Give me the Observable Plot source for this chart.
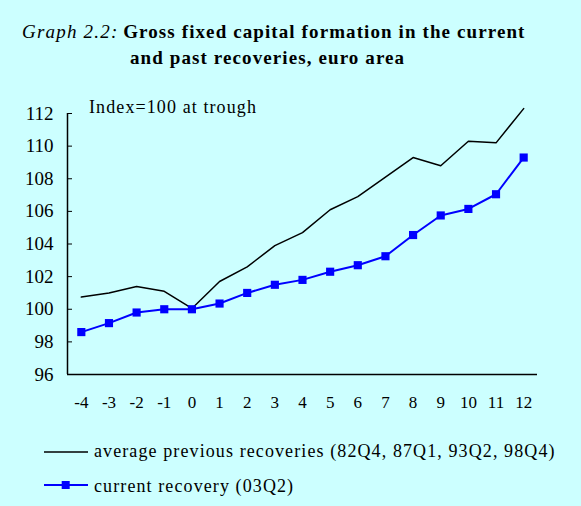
<!DOCTYPE html>
<html>
<head>
<meta charset="utf-8">
<script src="https://cdn.jsdelivr.net/npm/d3@7"></script>
<script src="https://cdn.jsdelivr.net/npm/@observablehq/plot@0.6"></script>
<style>
  html, body { margin: 0; padding: 0; background: #ccffff; }
  #wrap { position: relative; width: 581px; height: 506px; background: #ccffff; overflow: hidden;
          font-family: "Liberation Serif", "Times New Roman", serif; color: #000; }
  #wrap > svg.chart { position: absolute; left: 0; top: 0; background: transparent; }
  .t { position: absolute; white-space: nowrap; line-height: 1; }
  #title1 { left: 22px; top: 22px; font-size: 19px; }
  #title1 i { font-style: italic; font-weight: normal; letter-spacing: 1.2px; }
  #title1 b, #title2 { font-weight: bold; letter-spacing: 1.1px; }
  #title2 { left: 130px; top: 47.5px; font-size: 19px; }
  #note { left: 89px; top: 98px; font-size: 18px; letter-spacing: 1.1px; }
  .legtxt { position: absolute; left: 94px; font-size: 18px; letter-spacing: 1.1px; line-height: 1; white-space: nowrap; }
</style>
</head>
<body>
<div id="wrap">
  <div class="t" id="title1"><i>Graph 2.2:</i>&nbsp;<b>Gross fixed capital formation in the current</b></div>
  <div class="t" id="title2">and past recoveries, euro area</div>
  <div class="t" id="note">Index=100 at trough</div>
</div>
<script>
const periods = [-4, -3, -2, -1, 0, 1, 2, 3, 4, 5, 6, 7, 8, 9, 10, 11, 12];
const avgPrevious = [100.75, 101.0, 101.4, 101.1, 100.05, 101.7, 102.6, 103.9, 104.7, 106.1, 106.9, 108.1, 109.3, 108.8, 110.3, 110.2, 112.3];
const currentRecovery = [98.6, 99.15, 99.8, 100.0, 100.0, 100.35, 101.0, 101.5, 101.8, 102.3, 102.7, 103.25, 104.55, 105.75, 106.15, 107.05, 109.3];
const yTicks = [96, 98, 100, 102, 104, 106, 108, 110, 112];
const seriesNames = ["average previous recoveries (82Q4, 87Q1, 93Q2, 98Q4)", "current recovery (03Q2)"];

const prevData = periods.map((p, i) => ({p, v: avgPrevious[i]}));
const curData = periods.map((p, i) => ({p, v: currentRecovery[i]}));

const chart = Plot.plot({
  width: 581,
  height: 506,
  marginLeft: 67,
  marginRight: 44,
  marginTop: 113,
  marginBottom: 132,
  className: "chart",
  style: {background: "transparent", fontFamily: "Liberation Serif, Times New Roman, serif", color: "#000"},
  x: {type: "linear", domain: [periods[0] - 0.5, periods[periods.length - 1] + 0.5], label: null},
  y: {domain: [96, 112], label: null},
  marks: [
    Plot.axisX(periods, {tickSize: 0, tickPadding: 21, fontSize: 17, label: null, tickFormat: d => String(d), style: {letterSpacing: "0.5px"}}),
    Plot.axisY(yTicks, {tickSize: 0, tickPadding: 14, fontSize: 19, label: null, tickFormat: d => String(d), style: {letterSpacing: "0.6px"}}),
    Plot.axisY(yTicks, {tickSize: 5, dx: 5, label: null, tickFormat: () => "", stroke: "#000"}),
    Plot.ruleX([periods[0] - 0.5], {stroke: "#000", strokeWidth: 1.5}),
    Plot.ruleY([96], {stroke: "#000", strokeWidth: 1.5}),
    Plot.line(prevData, {x: "p", y: "v", stroke: "#000", strokeWidth: 1.5}),
    Plot.line(curData, {x: "p", y: "v", stroke: "#0000ff", strokeWidth: 2}),
    Plot.dot(curData, {x: "p", y: "v", symbol: "square", r: 4.6, fill: "#0000ff", stroke: "none"})
  ]
});
chart.classList.add("chart");
const wrap = document.getElementById("wrap");
wrap.insertBefore(chart, wrap.firstChild);

function legendItem(lineY, textTop, color, marker, label) {
  const s = d3.create("svg").attr("width", 44).attr("height", 12)
    .style("position", "absolute").style("left", "44px").style("top", (lineY - 6) + "px");
  s.append("line").attr("x1", 0).attr("x2", 44).attr("y1", 6).attr("y2", 6)
    .attr("stroke", color).attr("stroke-width", marker ? 2 : 1.5);
  if (marker) s.append("rect").attr("x", 17.7).attr("y", 2).attr("width", 8).attr("height", 8).attr("fill", color);
  wrap.appendChild(s.node());
  const span = document.createElement("div");
  span.className = "legtxt";
  span.style.top = textTop + "px";
  span.textContent = label;
  wrap.appendChild(span);
}
legendItem(451.5, 441.5, "#000", false, seriesNames[0]);
legendItem(484.5, 476.5, "#0000ff", true, seriesNames[1]);
</script>
</body>
</html>
